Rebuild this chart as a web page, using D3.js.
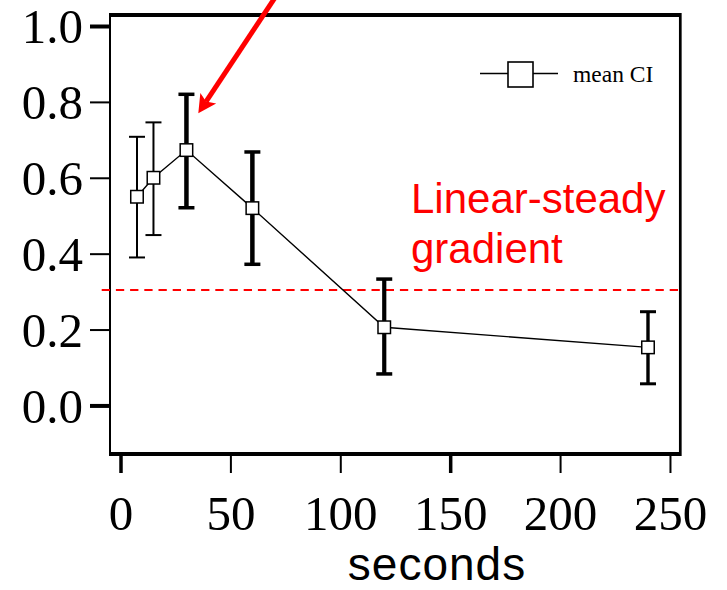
<!DOCTYPE html>
<html>
<head>
<meta charset="utf-8">
<script src="https://cdn.jsdelivr.net/npm/d3@7"></script>
<style>
  html, body { margin: 0; padding: 0; background: #fff; }
  svg { display: block; }
</style>
</head>
<body>
<svg id="chart" width="727" height="590"></svg>
<script>
// Time points (seconds) and the mean CI with its error-bar bounds
const seconds = [7.5, 15, 30, 60, 120, 240];
const meanCI  = [0.55, 0.60, 0.673, 0.52, 0.206, 0.153];
const ciUpper = [0.708, 0.746, 0.82, 0.668, 0.333, 0.247];
const ciLower = [0.39, 0.449, 0.521, 0.372, 0.083, 0.057];

const yTicks = [0.0, 0.2, 0.4, 0.6, 0.8, 1.0];
const xTicks = [0, 50, 100, 150, 200, 250];

// Reference threshold and its annotation
const thresholdValue = 0.304;
const thresholdLabel = ["Linear-steady", "gradient"];

// Arrow annotation pointing at the 30 s peak: [tail, tip] in data units
const arrowSeconds = [72.6, 35.4];
const arrowValues  = [1.095, 0.77];

const legendLabel = "mean CI";
const xLabel = "seconds";

// Stroke weights of the individual error bars and ticks
const barWeights   = [2, 2, 4.5, 4.5, 4.2, 3.4];
const capWeights   = [2, 2, 3.5, 3.5, 3.5, 3];
const yTickWeights = [4, 2, 2, 2, 2, 4];
const xTickWeights = [3.5, 2, 2, 3.5, 2, 2];

const svg = d3.select("#chart");
const frame = { left: 110, right: 680.3, top: 15, bottom: 454 };

const x = d3.scaleLinear().domain([-4.55, 254.7]).range([110.5, 680.3]);
const y = d3.scaleLinear().domain([-0.128, 1.029]).range([frame.bottom, frame.top]);

const serif = "'Liberation Serif', 'Times New Roman', serif";
const sans = "'Liberation Sans', Arial, sans-serif";

// Y axis
const yAxis = svg.append("g")
  .attr("transform", `translate(${frame.left},0)`)
  .call(d3.axisLeft(y).tickValues(yTicks).tickSize(20).tickPadding(7)
    .tickFormat(d3.format(".1f")));
yAxis.select(".domain").remove();
yAxis.selectAll(".tick line")
  .attr("stroke", "#000")
  .attr("stroke-width", (d, i) => yTickWeights[i]);
yAxis.selectAll(".tick text")
  .attr("fill", "#000")
  .attr("dy", "0.34em")
  .style("font-family", serif)
  .style("font-size", "49px");

// X axis
const xAxis = svg.append("g")
  .attr("transform", `translate(0,${frame.bottom})`)
  .call(d3.axisBottom(x).tickValues(xTicks).tickSize(19).tickPadding(22)
    .tickFormat(d3.format("d")));
xAxis.select(".domain").remove();
xAxis.selectAll(".tick line")
  .attr("stroke", "#000")
  .attr("stroke-width", (d, i) => xTickWeights[i]);
xAxis.selectAll(".tick text")
  .attr("fill", "#000")
  .style("font-family", serif)
  .style("font-size", "49px");

// Plot frame
const edges = [
  { x1: frame.left, y1: frame.top, x2: frame.right, y2: frame.top, w: 4 },
  { x1: frame.left, y1: frame.bottom, x2: frame.right, y2: frame.bottom, w: 4 },
  { x1: frame.left, y1: frame.top - 2, x2: frame.left, y2: frame.bottom + 2, w: 2 },
  { x1: frame.right, y1: frame.top - 2, x2: frame.right, y2: frame.bottom + 2, w: 2.7 }
];
svg.append("g").selectAll("line").data(edges).join("line")
  .attr("x1", d => d.x1).attr("y1", d => d.y1)
  .attr("x2", d => d.x2).attr("y2", d => d.y2)
  .attr("stroke", "#000").attr("stroke-width", d => d.w);

// Threshold line (dashed red), running slightly past the left frame edge
svg.append("line")
  .attr("x1", 101.7).attr("x2", frame.right)
  .attr("y1", y(thresholdValue)).attr("y2", y(thresholdValue))
  .attr("stroke", "#ff0000").attr("stroke-width", 2)
  .attr("stroke-dasharray", "8.3,5.9");

svg.append("text")
  .attr("x", 411)
  .attr("y", 213)
  .attr("fill", "#ff0000")
  .style("font-family", sans)
  .style("font-size", "42px")
  .selectAll("tspan").data(thresholdLabel).join("tspan")
  .attr("x", 411)
  .attr("dy", (d, i) => i === 0 ? 0 : 50)
  .text(d => d);

// Series
const points = seconds.map((s, i) => ({ s, m: meanCI[i], hi: ciUpper[i], lo: ciLower[i], i }));

svg.append("path")
  .datum(points)
  .attr("fill", "none")
  .attr("stroke", "#000")
  .attr("stroke-width", 1.4)
  .attr("d", d3.line().x(d => x(d.s)).y(d => y(d.m)));

const bars = svg.append("g").selectAll("g").data(points).join("g");
bars.append("line")
  .attr("x1", d => x(d.s)).attr("x2", d => x(d.s))
  .attr("y1", d => y(d.hi)).attr("y2", d => y(d.lo))
  .attr("stroke", "#000").attr("stroke-width", d => barWeights[d.i]);
bars.selectAll("line.cap").data(d => [
    { s: d.s, v: d.hi, i: d.i }, { s: d.s, v: d.lo, i: d.i }
  ]).join("line")
  .attr("class", "cap")
  .attr("x1", d => x(d.s) - 8).attr("x2", d => x(d.s) + 8)
  .attr("y1", d => y(d.v)).attr("y2", d => y(d.v))
  .attr("stroke", "#000").attr("stroke-width", d => capWeights[d.i]);

const marker = 12.5;
svg.append("g").selectAll("rect").data(points).join("rect")
  .attr("x", d => x(d.s) - marker / 2)
  .attr("y", d => y(d.m) - marker / 2)
  .attr("width", marker).attr("height", marker)
  .attr("fill", "#fff")
  .attr("stroke", "#000").attr("stroke-width", 1.5);

// Legend
const legend = svg.append("g");
legend.append("line")
  .attr("x1", 480).attr("x2", 558).attr("y1", 73.5).attr("y2", 73.5)
  .attr("stroke", "#000").attr("stroke-width", 1.6);
legend.append("rect")
  .attr("x", 508).attr("y", 62).attr("width", 25).attr("height", 25)
  .attr("fill", "#fff").attr("stroke", "#000").attr("stroke-width", 1.6);
legend.append("text")
  .attr("x", 573).attr("y", 82)
  .attr("fill", "#000")
  .style("font-family", serif)
  .style("font-size", "23.5px")
  .text(legendLabel);

// X axis title
svg.append("text")
  .attr("x", 437).attr("y", 580)
  .attr("text-anchor", "middle")
  .attr("fill", "#000")
  .style("font-family", sans)
  .style("font-size", "46px")
  .style("letter-spacing", "1px")
  .text(xLabel);

// Red arrow
const tail = [x(arrowSeconds[0]), y(arrowValues[0])];
const tip = [x(arrowSeconds[1]), y(arrowValues[1])];
const dx = tail[0] - tip[0], dy = tail[1] - tip[1];
const len = Math.hypot(dx, dy);
const ux = dx / len, uy = dy / len;
const nx = -uy, ny = ux;
const headLen = 18, headHalf = 9.5, notch = 14;
const base = [tip[0] + ux * headLen, tip[1] + uy * headLen];
const neck = [tip[0] + ux * notch, tip[1] + uy * notch];

svg.append("line")
  .attr("x1", tail[0]).attr("y1", tail[1])
  .attr("x2", neck[0]).attr("y2", neck[1])
  .attr("stroke", "#ff0000").attr("stroke-width", 5);
svg.append("path")
  .attr("fill", "#ff0000")
  .attr("d", d3.line()([
    tip,
    [base[0] + nx * headHalf, base[1] + ny * headHalf],
    neck,
    [base[0] - nx * headHalf, base[1] - ny * headHalf]
  ]) + "Z");
</script>
</body>
</html>
